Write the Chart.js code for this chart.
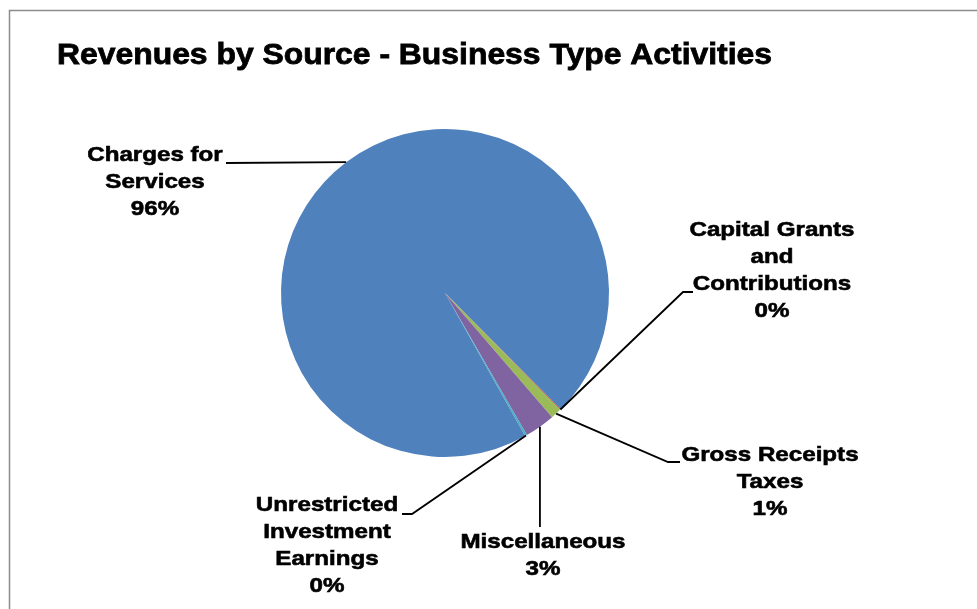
<!DOCTYPE html>
<html lang="en">
<head>
<meta charset="UTF-8">
<title>Revenues by Source - Business Type Activities</title>
<style>
  body { margin: 0; background: #fff; }
  canvas { display: block; }
</style>
</head>
<body>
<canvas id="myChart" width="977" height="609"></canvas>
<script src="https://cdn.jsdelivr.net/npm/chart.js@4.4.0/dist/chart.umd.min.js"></script>
<script>
// data (percent of total)
const categories = ['Charges for Services', 'Capital Grants and Contributions', 'Gross Receipts Taxes', 'Miscellaneous', 'Unrestricted Investment Earnings'];
const values = [95.65, 0.1, 1.05, 3.0, 0.2];
const colors = ['#4f81bd', '#c0504d', '#9bbb59', '#8064a2', '#4bacc6'];
const labelLines = [
    ['Charges for', 'Services'],
    ['Capital Grants', 'and', 'Contributions'],
    ['Gross Receipts', 'Taxes'],
    ['Miscellaneous'],
    ['Unrestricted', 'Investment', 'Earnings']
];

// where the data labels sit and how the leader lines bend
const labelPos = [
    { x: 155, y: 155, path: [[226, 163]] },
    { x: 772, y: 230, path: [[683, 292], [693, 292]] },
    { x: 770, y: 455, path: [[668, 462], [680, 462]] },
    { x: 543, y: 542, path: [[null, 527]] },
    { x: 327, y: 505, path: [[412, 514], [402, 514]] }
];

const TEXT_STRETCH = 1.15;
const LINE_H = 27;

// draw text squeezed/stretched horizontally, with a hairline stroke to fatten it a bit
function stretchText(ctx, text, x, y, sx, weight) {
    ctx.save();
    ctx.translate(x, y);
    ctx.scale(sx, 1);
    ctx.fillText(text, 0, 0);
    ctx.lineWidth = weight;
    ctx.strokeStyle = '#000';
    ctx.strokeText(text, 0, 0);
    ctx.restore();
}

const frame = {
    id: 'frame',
    beforeDraw(chart) {
        const c = chart.ctx;
        c.save();
        c.fillStyle = '#fff';
        c.fillRect(0, 0, chart.width, chart.height);
        c.strokeStyle = '#8c8c8c';
        c.lineWidth = 1.5;
        c.strokeRect(9.5, 10.5, chart.width + 20, chart.height + 20);
        c.restore();
    }
};

const labels = {
    id: 'labels',
    afterDraw(chart) {
        const c = chart.ctx;
        const arcs = chart.getDatasetMeta(0).data;
        const total = values.reduce((a, b) => a + b, 0);

        // title
        c.save();
        c.fillStyle = '#000';
        c.font = 'bold 30px "Liberation Sans", Arial, sans-serif';
        c.textAlign = 'left';
        c.textBaseline = 'alphabetic';
        const title = 'Revenues by Source - Business Type Activities';
        const sx = 715 / c.measureText(title).width;
        stretchText(c, title, 57, 64, sx, 0.8);

        // leader lines
        c.strokeStyle = '#000';
        c.lineWidth = 1.8;
        arcs.forEach((arc, i) => {
            const mid = (arc.startAngle + arc.endAngle) / 2;
            const x0 = arc.x + Math.cos(mid) * arc.outerRadius;
            const y0 = arc.y + Math.sin(mid) * arc.outerRadius;
            c.beginPath();
            c.moveTo(x0, y0);
            labelPos[i].path.forEach(p => c.lineTo(p[0] === null ? x0 : p[0], p[1]));
            c.stroke();
        });

        // label text
        c.font = 'bold 21px "Liberation Sans", Arial, sans-serif';
        c.textAlign = 'center';
        c.textBaseline = 'middle';
        categories.forEach((cat, i) => {
            const lines = labelLines[i].concat([Math.round(values[i] / total * 100) + '%']);
            lines.forEach((t, k) => {
                stretchText(c, t, labelPos[i].x, labelPos[i].y + k * LINE_H, TEXT_STRETCH, 0.6);
            });
        });
        c.restore();
    }
};

new Chart(document.getElementById('myChart'), {
    type: 'pie',
    data: {
        labels: categories,
        datasets: [{
            data: values,
            backgroundColor: colors,
            borderWidth: 0
        }]
    },
    options: {
        responsive: false,
        animation: false,
        rotation: 150.75,
        layout: { padding: { top: 129, bottom: 152, left: 281, right: 368 } },
        plugins: {
            legend: { display: false },
            tooltip: { enabled: false }
        }
    },
    plugins: [frame, labels]
});
</script>
</body>
</html>
